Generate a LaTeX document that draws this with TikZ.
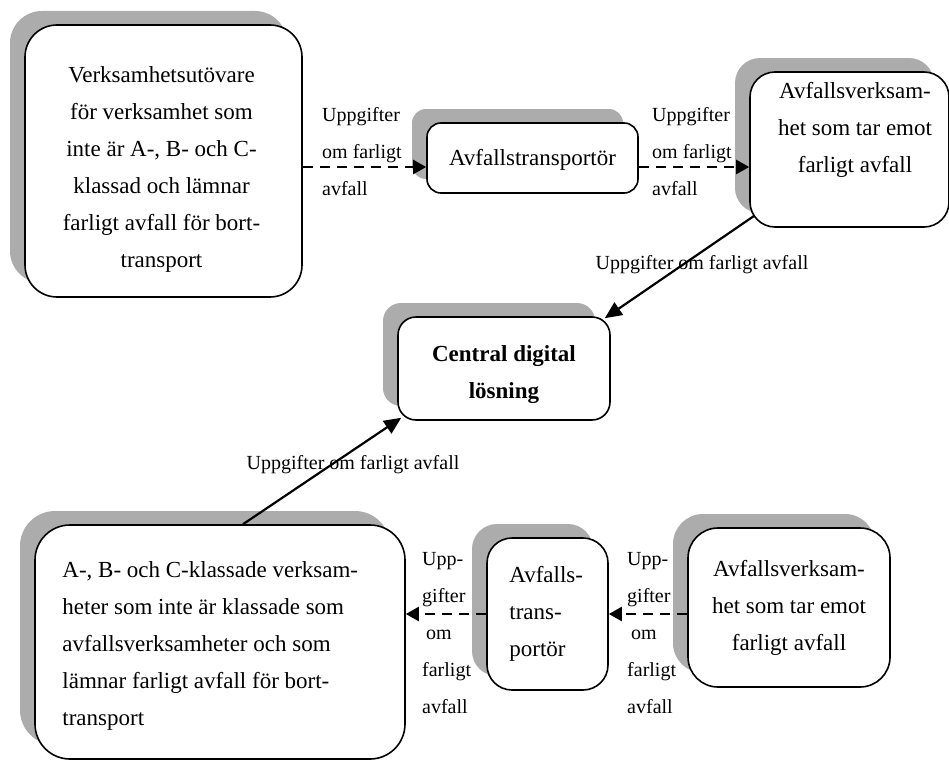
\documentclass[tikz,border=0pt]{standalone}
\usepackage{fontspec}
\setmainfont{Liberation Serif}
\usetikzlibrary{shadows,arrows.meta}
\definecolor{shadowgray}{RGB}{172,172,172}
\begin{document}
\begin{tikzpicture}[x=1pt,y=-1pt,
  card/.style={draw, line width=1.6pt, fill=white, rounded corners=#1, inner sep=0pt,
    copy shadow={shadow xshift=-15pt, shadow yshift=14pt, fill=shadowgray, draw=none}},
  card/.default=25pt,
  boxtext/.style={font=\fontsize{23}{37}\selectfont, inner sep=0pt},
  flowlabel/.style={font=\fontsize{20}{37}\selectfont, align=left, inner sep=0pt},
  dashedflow/.style={line width=2.3pt, dash pattern=on 10pt off 7pt,
    -{Triangle[length=13pt,width=14pt]}},
  solidflow/.style={line width=2.2pt, -{Triangle[length=17pt,width=15pt]}},
]
\useasboundingbox (0,0) rectangle (949,760);

% organisations (frames)
\node[card=32pt, minimum width=277pt, minimum height=272pt] (src) at (163.5,161) {};
\node[card=14pt, minimum width=211pt, minimum height=70pt] (trA) at (532.5,158) {};
\node[card=25pt, minimum width=199pt, minimum height=155pt] (recA) at (849.5,149.5) {};
\node[card=18pt, minimum width=212pt, minimum height=103pt] (central) at (504,368.5) {};
\node[card=35pt, minimum width=370pt, minimum height=234pt] (prod) at (220,642) {};
\node[card=25pt, minimum width=121pt, minimum height=152pt] (trB) at (547.5,614) {};
\node[card=30pt, minimum width=202pt, minimum height=159pt] (recB) at (789,607.5) {};

% organisation texts
\node[boxtext, align=center] (srcText) at ([shift={(-2,8.5)}]src.center)
  {Verksamhetsutövare\\för verksamhet som\\inte är A-, B- och C-\\klassad och lämnar\\farligt avfall för bort-\\transport};
\node[boxtext] (trAText) at ([shift={(0,2)}]trA.center) {Avfallstransportör};
\node[boxtext, align=center] (recAText) at ([shift={(5.5,-19.5)}]recA.center)
  {Avfallsverksam-\\het som tar emot\\farligt avfall};
\node[boxtext, font=\fontsize{23}{37}\selectfont\bfseries, align=center] (centralText)
  at ([shift={(0,6.5)}]central.center) {Central digital\\lösning};
\node[boxtext, align=left, anchor=west] (prodText) at ([shift={(28,4)}]prod.west)
  {A-, B- och C-klassade verksam-\\heter som inte är klassade som\\avfallsverksamheter och som\\lämnar farligt avfall för bort-\\transport};
\node[boxtext, align=left, anchor=west] (trBText) at ([shift={(23,0)}]trB.west)
  {Avfalls-\\trans-\\portör};
\node[boxtext, align=center] (recBText) at (recB.center)
  {Avfallsverksam-\\het som tar emot\\farligt avfall};

% flow labels
\node[flowlabel, anchor=west] (l1) at (322,152) {Uppgifter\\om farligt\\avfall};
\node[flowlabel, anchor=west] (l2) at (652,152) {Uppgifter\\om farligt\\avfall};
\node[flowlabel] (l3) at (702,265) {Uppgifter om farligt avfall};
\node[flowlabel] (l4) at (353,465) {Uppgifter om farligt avfall};
\node[flowlabel, anchor=west] (l5) at (422,633) {Upp-\\gifter\\\hspace*{4pt}om\\farligt\\avfall};
\node[flowlabel, anchor=west] (l6) at (627,633) {Upp-\\gifter\\\hspace*{4pt}om\\farligt\\avfall};

% connectors
\coordinate (topflow) at ([shift={(0,9)}]trA.west);
\draw[dashedflow] (src.east |- topflow) -- (topflow);
\draw[dashedflow] (trA.east |- topflow) -- (recA.west |- topflow);
\draw[solidflow] ([shift={(5,-12)}]recA.south west) -- ([shift={(-6,2)}]central.north east);
\draw[solidflow] ([shift={(23,0)}]prod.north) -- ([shift={(4,-3)}]central.south west);
\draw[dashedflow] (trB.west) -- (prod.east |- trB.west);
\draw[dashedflow] (recB.west |- trB.east) -- (trB.east);
\end{tikzpicture}
\end{document}
